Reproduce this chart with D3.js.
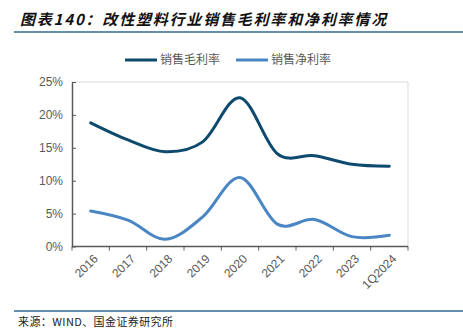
<!DOCTYPE html>
<html><head><meta charset="utf-8">
<script src="https://cdn.jsdelivr.net/npm/d3@7"></script>
<style>body{margin:0;background:#fff}svg{display:block}</style>
</head><body><svg id="c" width="463" height="333"></svg>
<script>
const categories = ["2016","2017","2018","2019","2020","2021","2022","2023","1Q2024"];
const grossMargin = [18.8,16.2,14.4,15.9,22.6,14.1,13.8,12.5,12.2];
const netMargin = [5.4,4.0,1.1,4.5,10.5,3.4,4.1,1.5,1.7];
const yTicks = [0,5,10,15,20,25];
const seriesNames = ["销售毛利率","销售净利率"];
const colors = ["#0d4a6e","#4a86c4"];

const svg = d3.select("#c");
const L=72,R=408,T=82,B=246.5;
const x = d3.scaleBand().domain(categories).range([L,R]);
const y = d3.scaleLinear().domain([0,25]).range([B,T]);

svg.append("text").attr("x",20).attr("y",25).text("图表140：改性塑料行业销售毛利率和净利率情况")
 .attr("font-family","Noto Sans CJK SC").attr("font-size",15).attr("font-weight","bold")
 .attr("font-style","italic").attr("letter-spacing",1.8).attr("fill","#111");
svg.append("line").attr("x1",14).attr("x2",463).attr("y1",32).attr("y2",32).attr("stroke","#2f6a92").attr("stroke-width",1.5);
svg.append("line").attr("x1",14).attr("x2",463).attr("y1",311).attr("y2",311).attr("stroke","#2f6a92").attr("stroke-width",1.5);
svg.append("text").attr("x",18).attr("y",326).text("来源：WIND、国金证券研究所")
 .attr("font-family","Noto Sans CJK SC").attr("font-size",11).attr("letter-spacing",0.4).attr("fill","#222");

// plot frame top/right
svg.append("path").attr("d",`M${L},${T}H${R}V${B}`).attr("fill","none").attr("stroke","#d9d9d9").attr("stroke-width",1);

const ya = svg.append("g").attr("transform",`translate(${L},0)`)
 .call(d3.axisLeft(y).tickValues(yTicks).tickFormat(d=>d+"%").tickSizeInner(-4).tickSizeOuter(0).tickPadding(9));
ya.select(".domain").attr("stroke","#595959").attr("stroke-width",1.5);
ya.selectAll(".tick line").attr("stroke","#595959");
ya.selectAll("text").attr("font-family","Liberation Sans, Arial").attr("font-size",12).attr("fill","#595959");

const xa = svg.append("g").attr("transform",`translate(0,${B})`);
xa.append("line").attr("x1",L).attr("x2",R).attr("stroke","#595959").attr("stroke-width",1.5);
const bounds = categories.map(c=>x(c)).concat([R]);
xa.selectAll(".tk").data(bounds).join("line").attr("x1",d=>d).attr("x2",d=>d).attr("y1",0).attr("y2",4).attr("stroke","#595959");
xa.selectAll(".lb").data(categories).join("text")
 .attr("transform",d=>`translate(${x(d)+x.bandwidth()/2+5},${10}) rotate(-45)`)
 .attr("text-anchor","end").attr("dy","0.35em").text(d=>d)
 .attr("font-family","Liberation Sans, Arial").attr("font-size",12).attr("fill","#595959");

const line = d3.line().x((d,i)=>x(categories[i])+x.bandwidth()/2).y(d=>y(d)).curve(d3.curveCardinal.tension(0));
[grossMargin,netMargin].forEach((s,i)=>{
  svg.append("path").attr("d",line(s)).attr("fill","none").attr("stroke",colors[i]).attr("stroke-width",3).attr("stroke-linecap","round");
});

const lg = [{x:125,t:160},{x:236,t:271}];
seriesNames.forEach((n,i)=>{
  svg.append("line").attr("x1",lg[i].x).attr("x2",lg[i].x+32).attr("y1",60).attr("y2",60).attr("stroke",colors[i]).attr("stroke-width",3);
  svg.append("text").attr("x",lg[i].t).attr("y",60).attr("dy","0.35em").text(n)
   .attr("font-family","Noto Sans CJK SC").attr("font-size",12).attr("fill","#595959");
});
</script></body></html>
